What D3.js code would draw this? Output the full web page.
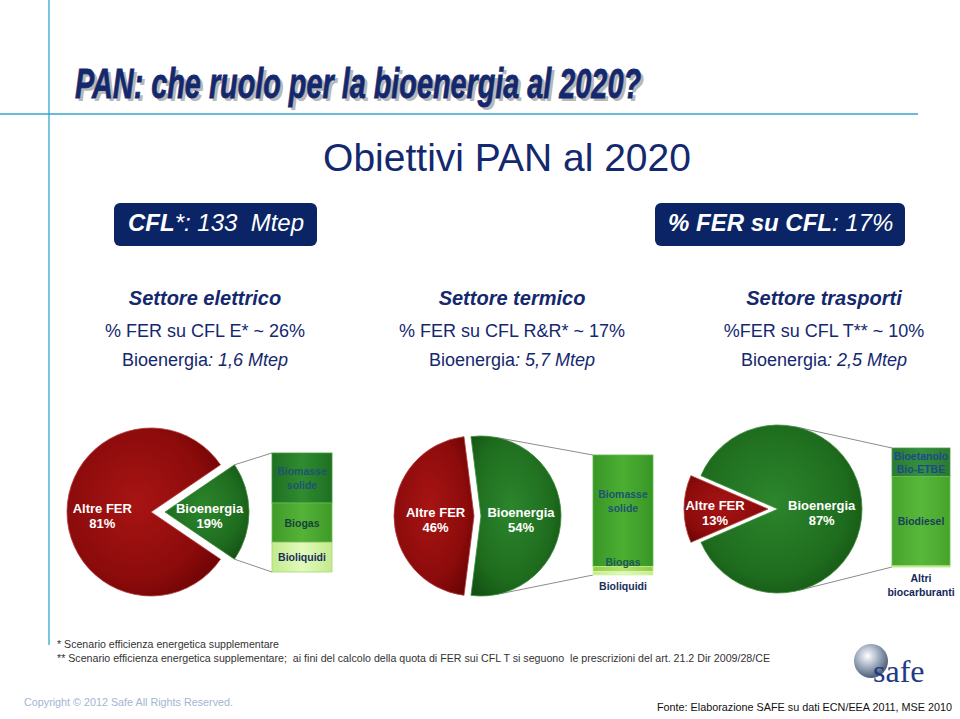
<!DOCTYPE html>
<html><head><meta charset="utf-8">
<script src="https://cdn.jsdelivr.net/npm/d3@7"></script>
<style>body{margin:0;background:#fff}svg{display:block}text{white-space:pre}</style>
</head><body>
<svg id="chart" width="960" height="719"></svg>
<script>
// ---------- DATA ----------
const pieCategories = ["Altre FER", "Bioenergia"];
const elettricoPie = [81, 19];
const termicoPie = [46, 54];
const trasportiPie = [13, 87];
const elettricoBarLabels = ["Biomasse solide", "Biogas", "Bioliquidi"];
const elettricoBar = [42, 33, 25];
const termicoBarLabels = ["Biomasse solide", "Biogas", "Bioliquidi"];
const termicoBar = [93, 4, 3];
const trasportiBarLabels = ["Bioetanolo Bio-ETBE", "Biodiesel", "Altri biocarburanti"];
const trasportiBar = [24, 75, 1];
const sectorNames = ["Settore elettrico", "Settore termico", "Settore trasporti"];
const sectorShares = ["% FER su CFL E* ~ 26%", "% FER su CFL R&R* ~ 17%", "%FER su CFL T** ~ 10%"];
const sectorBioenergy = ["1,6 Mtep", "5,7 Mtep", "2,5 Mtep"];
const cflValue = "133";
const ferShare = "17%";

// ---------- SETUP ----------
const svg = d3.select("#chart");
const defs = svg.append("defs");
const FONT = "'Liberation Sans', Arial, sans-serif";
const NAVY = "#14286e";

function hGrad(id, edge, mid) {
  const g = defs.append("linearGradient").attr("id", id).attr("x1", "0").attr("x2", "1").attr("y1", "0").attr("y2", "0");
  g.append("stop").attr("offset", "0%").attr("stop-color", edge);
  g.append("stop").attr("offset", "50%").attr("stop-color", mid);
  g.append("stop").attr("offset", "100%").attr("stop-color", edge);
}
function rGrad(id, c0, c1, c2) {
  const g = defs.append("radialGradient").attr("id", id).attr("cx", "45%").attr("cy", "45%").attr("r", "65%");
  g.append("stop").attr("offset", "0%").attr("stop-color", c0);
  g.append("stop").attr("offset", "70%").attr("stop-color", c1);
  g.append("stop").attr("offset", "100%").attr("stop-color", c2);
}
rGrad("gRed", "#a81414", "#8c0b0b", "#6c0404");
rGrad("gGreen", "#2c862c", "#1e6c1e", "#145214");
hGrad("b1", "#1f6f22", "#2f8c30");
hGrad("b2", "#3f9a28", "#55b338");
hGrad("b3", "#c2ea8c", "#e2fbbc");
hGrad("b4", "#389626", "#4caf33");
hGrad("b5", "#8fcf45", "#b5e26f");
hGrad("b6", "#2a7a32", "#349040");
hGrad("b7", "#46a42c", "#58b83a");
hGrad("b8", "#c2ea8c", "#dcf7b0");

// ---------- FRAME LINES ----------
svg.append("line").attr("x1", 0).attr("x2", 918).attr("y1", 114).attr("y2", 114)
  .attr("stroke", "#35a3cc").attr("stroke-width", 1.3);
svg.append("line").attr("x1", 49).attr("x2", 49).attr("y1", 0).attr("y2", 645)
  .attr("stroke", "#35a3cc").attr("stroke-width", 1.3);

// ---------- TITLE ----------
const titleText = "PAN: che ruolo per la bioenergia al 2020?";
function titleLayer(dx, dy, fill) {
  return svg.append("text").attr("x", 75 + dx).attr("y", 98 + dy).text(titleText)
    .attr("font-family", FONT).attr("font-size", 43).attr("font-weight", "bold").attr("font-style", "italic")
    .attr("textLength", 566).attr("lengthAdjust", "spacingAndGlyphs").attr("fill", fill);
}
titleLayer(3, 3, "#b8b8b8");
titleLayer(0, 0, "#14286e").attr("stroke", "#14286e").attr("stroke-width", 0.8);

svg.append("text").attr("x", 507).attr("y", 171).attr("text-anchor", "middle")
  .text("Obiettivi PAN al 2020").attr("font-family", FONT).attr("font-size", 39).attr("fill", NAVY);

// ---------- BOXES ----------
svg.append("rect").attr("x", 114).attr("y", 203).attr("width", 203).attr("height", 43).attr("rx", 6).attr("fill", "#0b2466");
const t1 = svg.append("text").attr("x", 128).attr("y", 231).attr("font-family", FONT).attr("font-size", 24)
  .attr("font-style", "italic").attr("fill", "#fff");
t1.append("tspan").attr("font-weight", "bold").text("CFL");
t1.append("tspan").text("*: " + cflValue + "  Mtep");

svg.append("rect").attr("x", 655).attr("y", 203).attr("width", 250).attr("height", 43).attr("rx", 6).attr("fill", "#0b2466");
const t2 = svg.append("text").attr("x", 668).attr("y", 231).attr("font-family", FONT).attr("font-size", 24)
  .attr("font-style", "italic").attr("fill", "#fff");
t2.append("tspan").attr("font-weight", "bold").text("% FER su CFL");
t2.append("tspan").text(": " + ferShare);

// ---------- SECTOR HEADERS ----------
const sectorX = [205, 512, 824];
sectorNames.forEach((n, i) => {
  svg.append("text").attr("x", sectorX[i]).attr("y", 305).attr("text-anchor", "middle").text(n)
    .attr("font-family", FONT).attr("font-size", 20).attr("font-weight", "bold").attr("font-style", "italic").attr("fill", NAVY);
  svg.append("text").attr("x", sectorX[i]).attr("y", 337).attr("text-anchor", "middle").text(sectorShares[i])
    .attr("font-family", FONT).attr("font-size", 18).attr("fill", NAVY);
  const b = svg.append("text").attr("x", sectorX[i]).attr("y", 366).attr("text-anchor", "middle")
    .attr("font-family", FONT).attr("font-size", 18).attr("fill", NAVY);
  b.append("tspan").text("Bioenergia");
  b.append("tspan").attr("font-style", "italic").text(": " + sectorBioenergy[i]);
});

// ---------- PANELS ----------
const panels = [
  { pie: elettricoPie, bar: elettricoBar, barLabels: elettricoBarLabels,
    cx: 158, cy: 512, r: 84, explode: 7, labelFrac: [0.58, 0.53],
    bx: 272, by: 453, bw: 60, bh: 119,
    fills: ["url(#b1)", "url(#b2)", "url(#b3)"], strokes: ["#3d9a3d", "#6cc04c", "#a6d67a"],
    textColors: ["#1d5470", "#17423a", "#1a2e5c"], modes: ["inside", "inside", "inside"], shift: [0, 0, 0] },
  { pie: termicoPie, bar: termicoBar, barLabels: termicoBarLabels,
    cx: 477.5, cy: 516, r: 80, explode: 3.5, labelFrac: [0.48, 0.5],
    bx: 593, by: 455, bw: 60, bh: 120,
    fills: ["url(#b4)", "url(#b5)", "url(#b3)"], strokes: ["#5cb848", "#c8ef90", "#d8f5b0"],
    textColors: ["#1d5470", "#1d5a50", "#1a2e5c"], modes: ["inside", "above", "below"], shift: [-10, 0, 0] },
  { pie: trasportiPie, bar: trasportiBar, barLabels: trasportiBarLabels,
    cx: 773, cy: 509, r: 84, explode: 5, labelFrac: [0.63, 0.52],
    bx: 892, by: 448, bw: 58, bh: 119,
    fills: ["url(#b6)", "url(#b7)", "url(#b8)"], strokes: ["#4a9a4a", "#6cc04c", "#b6e480"],
    textColors: ["#1f4a86", "#1a3f5c", "#14285a"], modes: ["inside", "inside", "below"], shift: [0, 0, 0] }
];

function tangentPoint(c, r, p, upper, aMin, aMax) {
  const dx = p[0] - c[0], dy = p[1] - c[1], d = Math.hypot(dx, dy);
  const base = Math.atan2(dy, dx), off = Math.acos(r / d);
  let a = upper ? base - off : base + off;
  a = Math.max(aMin, Math.min(aMax, a));
  return [c[0] + r * Math.cos(a), c[1] + r * Math.sin(a)];
}

panels.forEach(P => {
  const total = d3.sum(P.pie);
  const a = P.pie[0] / total;
  const start = Math.PI / 2 - Math.PI * (1 + a);
  const pieGen = d3.pie().sort(null).startAngle(start).endAngle(start + 2 * Math.PI);
  const arcs = pieGen(P.pie);
  const arcGen = d3.arc().innerRadius(0).outerRadius(P.r);
  const g = svg.append("g");

  // connectors (behind)
  const b = arcs[1];
  const bMid = (b.startAngle + b.endAngle) / 2;
  const gc = [P.cx + Math.sin(bMid) * P.explode, P.cy - Math.cos(bMid) * P.explode];
  const half = (b.endAngle - b.startAngle) / 2;
  const topP = tangentPoint(gc, P.r, [P.bx, P.by], true, -half, half);
  const botP = tangentPoint(gc, P.r, [P.bx, P.by + P.bh], false, -half, half);
  g.append("line").attr("x1", topP[0]).attr("y1", topP[1]).attr("x2", P.bx).attr("y2", P.by)
    .attr("stroke", "#8c8c8c").attr("stroke-width", 1);
  g.append("line").attr("x1", botP[0]).attr("y1", botP[1]).attr("x2", P.bx).attr("y2", P.by + P.bh)
    .attr("stroke", "#8c8c8c").attr("stroke-width", 1);

  arcs.forEach((d, i) => {
    const mid = (d.startAngle + d.endAngle) / 2;
    const ox = P.cx + Math.sin(mid) * P.explode, oy = P.cy - Math.cos(mid) * P.explode;
    g.append("path").attr("d", arcGen(d)).attr("transform", `translate(${ox},${oy})`)
      .attr("fill", i === 0 ? "url(#gRed)" : "url(#gGreen)")
      .attr("stroke", i === 0 ? "#b43a3a" : "#3c8c3c").attr("stroke-width", 0.8);
    const lr = P.r * P.labelFrac[i];
    const lx = ox + Math.sin(mid) * lr, ly = oy - Math.cos(mid) * lr;
    const t = g.append("text").attr("text-anchor", "middle").attr("font-family", FONT)
      .attr("font-size", 13).attr("font-weight", "bold").attr("fill", "#fff");
    t.append("tspan").attr("x", lx).attr("y", ly + 1).text(pieCategories[i]);
    t.append("tspan").attr("x", lx).attr("y", ly + 16).text(Math.round(d.value / total * 100) + "%");
  });

  // stacked bar
  const y = d3.scaleLinear().domain([0, d3.sum(P.bar)]).range([P.by, P.by + P.bh]);
  let acc = 0;
  P.bar.forEach((v, i) => {
    const y0 = y(acc), y1 = y(acc + v);
    acc += v;
    g.append("rect").attr("x", P.bx).attr("y", y0).attr("width", P.bw).attr("height", Math.max(0.8, y1 - y0))
      .attr("fill", P.fills[i]).attr("stroke", P.strokes[i]).attr("stroke-width", 0.8);
    const lines = P.barLabels[i].split(" ");
    let cy;
    if (P.modes[i] === "inside") cy = (y0 + y1) / 2 - (lines.length - 1) * 6.5 + P.shift[i];
    else if (P.modes[i] === "above") cy = y0 - 5;
    else cy = P.by + P.bh + 11;
    const t = g.append("text").attr("text-anchor", "middle").attr("font-family", FONT)
      .attr("font-size", 10.5).attr("font-weight", "bold").attr("fill", P.textColors[i]);
    lines.forEach((ln, k) => t.append("tspan").attr("x", P.bx + P.bw / 2).attr("y", cy + 4 + k * 13.5).text(ln));
  });
});

// ---------- FOOTNOTES ----------
svg.append("text").attr("x", 57).attr("y", 648).text("* Scenario efficienza energetica supplementare")
  .attr("font-family", FONT).attr("font-size", 10.5).attr("fill", "#333").attr("textLength", 222).attr("lengthAdjust", "spacingAndGlyphs");
svg.append("text").attr("x", 57).attr("y", 662)
  .text("** Scenario efficienza energetica supplementare;  ai fini del calcolo della quota di FER sui CFL T si seguono  le prescrizioni del art. 21.2 Dir 2009/28/CE")
  .attr("font-family", FONT).attr("font-size", 10.5).attr("fill", "#333").attr("textLength", 713).attr("lengthAdjust", "spacingAndGlyphs");
svg.append("text").attr("x", 24).attr("y", 706).text("Copyright © 2012 Safe All Rights Reserved.")
  .attr("font-family", FONT).attr("font-size", 11.5).attr("fill", "#a3b5d3").attr("textLength", 209).attr("lengthAdjust", "spacingAndGlyphs");
svg.append("text").attr("x", 657).attr("y", 711).text("Fonte: Elaborazione SAFE su dati ECN/EEA 2011, MSE 2010")
  .attr("font-family", FONT).attr("font-size", 11.5).attr("fill", "#111").attr("textLength", 295).attr("lengthAdjust", "spacingAndGlyphs");

// ---------- LOGO ----------
const lg = defs.append("radialGradient").attr("id", "globe").attr("cx", "40%").attr("cy", "35%").attr("r", "65%");
lg.append("stop").attr("offset", "0%").attr("stop-color", "#ffffff");
lg.append("stop").attr("offset", "55%").attr("stop-color", "#9aa8bc");
lg.append("stop").attr("offset", "100%").attr("stop-color", "#4e5e78");
svg.append("circle").attr("cx", 871).attr("cy", 661).attr("r", 17).attr("fill", "url(#globe)");
svg.append("text").attr("x", 873).attr("y", 682).text("safe").attr("font-family", "'Liberation Serif', 'DejaVu Serif', serif")
  .attr("font-size", 32).attr("fill", "#1e3c82");
</script>
</body></html>
